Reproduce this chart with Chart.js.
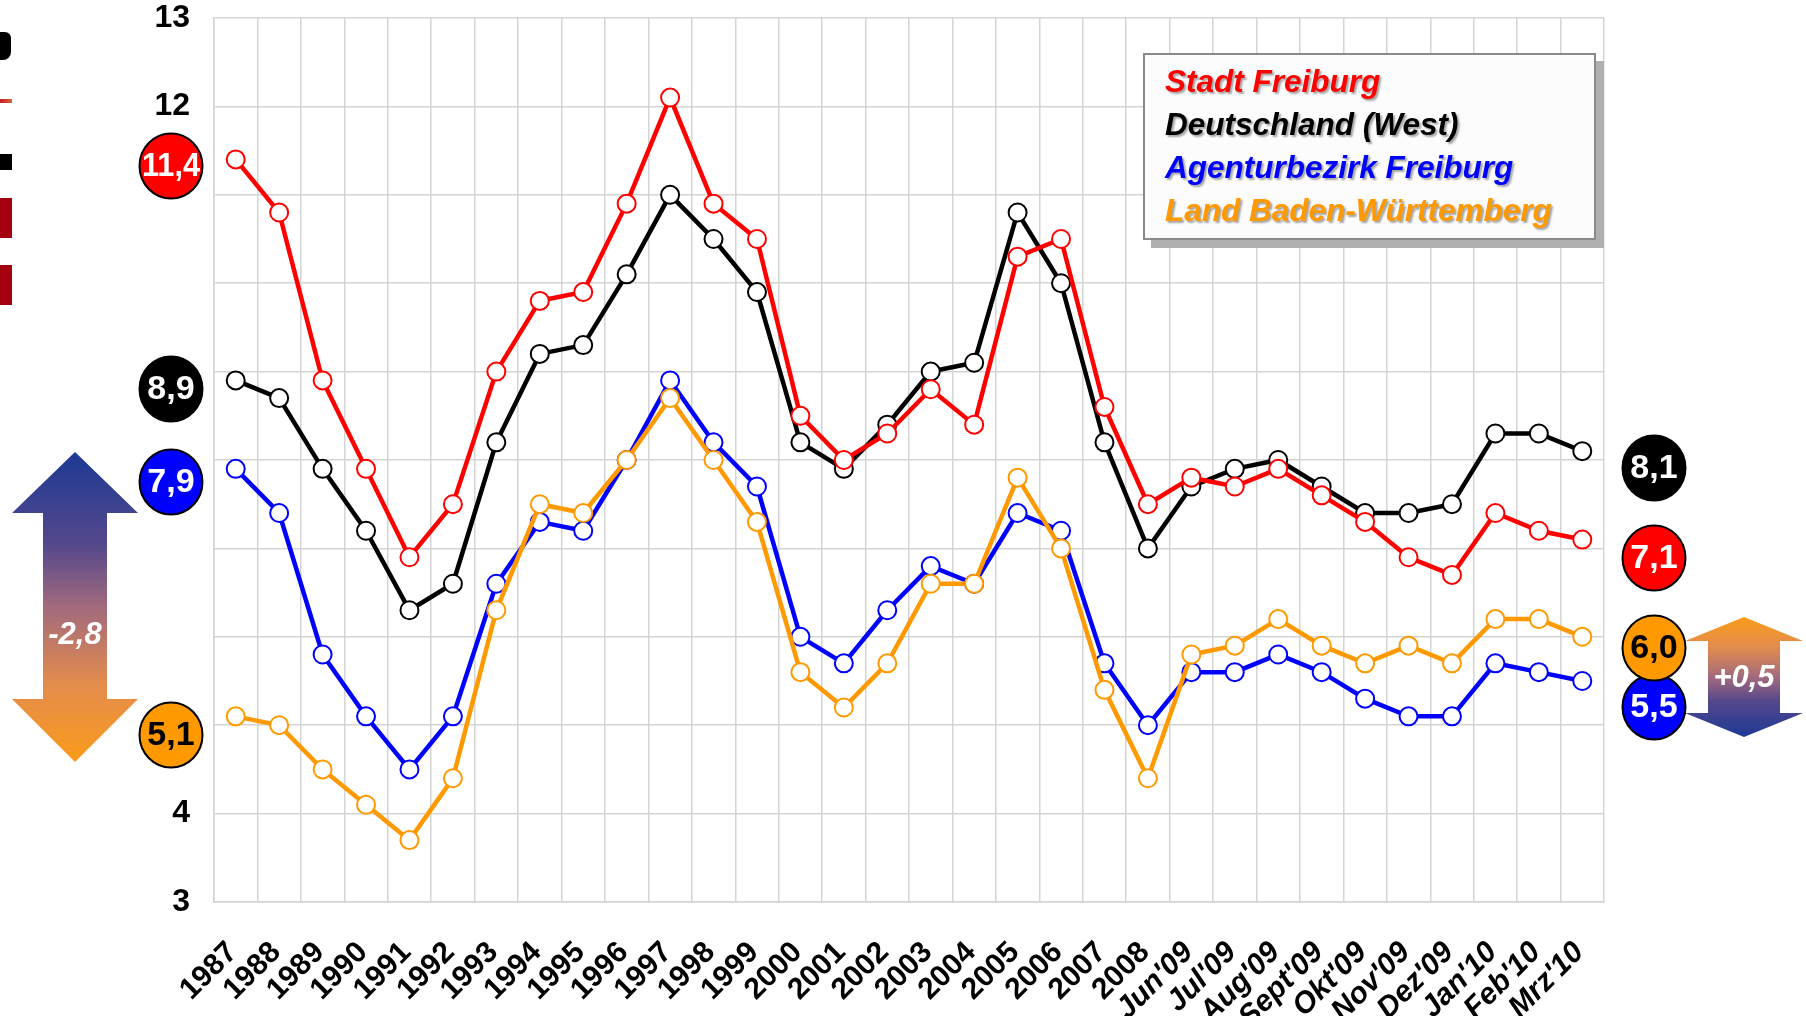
<!DOCTYPE html>
<html>
<head>
<meta charset="utf-8">
<script src="https://cdn.jsdelivr.net/npm/chart.js@4.4.0/dist/chart.umd.min.js"></script>
<style>
  body { margin: 0; background: #fff; }
  #wrap { position: relative; width: 1806px; height: 1016px; overflow: hidden; }
  #chart { position: absolute; left: 0; top: 0; }
  #legendBox {
    position: absolute; left: 1143px; top: 53px; width: 429px; height: 178px;
    border: 2px solid #8a8a8a; background: #fcfcfc;
    box-shadow: 8px 8px 0 #b0b0b0;
    padding: 5px 0 0 20px; box-sizing: content-box;
    font-family: "Liberation Sans", Arial, sans-serif; font-weight: bold; font-style: italic;
    font-size: 31.5px; line-height: 43px; white-space: nowrap;
    text-shadow: 2px 2px 2px rgba(0, 0, 0, 0.35);
  }
  .edge { position: absolute; left: 0; width: 12px; }
</style>
</head>
<body>
<div id="wrap">
  <canvas id="chart" width="1806" height="1016"></canvas>
  <div id="legendBox"></div>
  <!-- bits of the slide cut off at the left edge -->
  <div class="edge" style="top:32px;height:28px;width:11px;background:#000;border-radius:0 6px 8px 0;"></div>
  <div class="edge" style="top:99px;height:4px;background:linear-gradient(90deg,#c21f1f,#e0603a);"></div>
  <div class="edge" style="top:154px;height:16px;background:#000;"></div>
  <div class="edge" style="top:198px;height:40px;background:#a30010;"></div>
  <div class="edge" style="top:265px;height:40px;background:#a30010;"></div>
</div>
<script>
const labels = [
  "1987", "1988", "1989", "1990", "1991", "1992", "1993", "1994", "1995", "1996",
  "1997", "1998", "1999", "2000", "2001", "2002", "2003", "2004", "2005", "2006",
  "2007", "2008", "Jun'09", "Jul'09", "Aug'09", "Sept'09", "Okt'09", "Nov'09",
  "Dez'09", "Jan'10", "Feb'10", "Mrz'10"
];
const stadtFreiburg = [
  11.4, 10.8, 8.9, 7.9, 6.9, 7.5, 9.0, 9.8, 9.9, 10.9,
  12.1, 10.9, 10.5, 8.5, 8.0, 8.3, 8.8, 8.4, 10.3, 10.5,
  8.6, 7.5, 7.8, 7.7, 7.9, 7.6, 7.3, 6.9, 6.7, 7.4, 7.2, 7.1
];
const deutschlandWest = [
  8.9, 8.7, 7.9, 7.2, 6.3, 6.6, 8.2, 9.2, 9.3, 10.1,
  11.0, 10.5, 9.9, 8.2, 7.9, 8.4, 9.0, 9.1, 10.8, 10.0,
  8.2, 7.0, 7.7, 7.9, 8.0, 7.7, 7.4, 7.4, 7.5, 8.3, 8.3, 8.1
];
const agenturbezirk = [
  7.9, 7.4, 5.8, 5.1, 4.5, 5.1, 6.6, 7.3, 7.2, 8.0,
  8.9, 8.2, 7.7, 6.0, 5.7, 6.3, 6.8, 6.6, 7.4, 7.2,
  5.7, 5.0, 5.6, 5.6, 5.8, 5.6, 5.3, 5.1, 5.1, 5.7, 5.6, 5.5
];
const badenWuerttemberg = [
  5.1, 5.0, 4.5, 4.1, 3.7, 4.4, 6.3, 7.5, 7.4, 8.0,
  8.7, 8.0, 7.3, 5.6, 5.2, 5.7, 6.6, 6.6, 7.8, 7.0,
  5.4, 4.4, 5.8, 5.9, 6.2, 5.9, 5.7, 5.9, 5.7, 6.2, 6.2, 6.0
];
const seriesNames = ["Stadt Freiburg", "Deutschland (West)", "Agenturbezirk Freiburg", "Land Baden-Württemberg"];
const seriesColors = ["#ff0000", "#000000", "#0000ff", "#ff9900"];
const yTicksShown = [3, 4, 12, 13];

const FONT = '"Liberation Sans", Arial, sans-serif';
const NARROW = '"Liberation Sans Narrow", "Arial Narrow", "Liberation Sans", sans-serif';
const fmt = (v) => v.toFixed(1).replace(".", ",");

// legend box (html, like the pasted one in the slide)
document.getElementById("legendBox").innerHTML = seriesNames
  .map((n, i) => `<div style="color:${seriesColors[i]}">${n}</div>`)
  .join("");

const makeSet = (i, data, order) => ({
  label: seriesNames[i],
  data: data,
  order: order,
  borderColor: seriesColors[i],
  borderWidth: 4.5,
  tension: 0,
  pointRadius: 9,
  pointBorderWidth: 2,
  pointBackgroundColor: "#ffffff",
  pointBorderColor: seriesColors[i],
});

const BLUE_TO_ORANGE = [
  [0, "#1d3994"], [0.3, "#55488c"], [0.5, "#a26a7c"], [0.75, "#e48c4c"], [1, "#fa9b1b"],
];

const drawArrow = (ctx, a, text) => {
  const g = ctx.createLinearGradient(0, a.top, 0, a.bottom);
  BLUE_TO_ORANGE.forEach(([p, c]) => g.addColorStop(a.flip ? 1 - p : p, c));
  ctx.beginPath();
  ctx.moveTo(a.cx, a.top);
  ctx.lineTo(a.cx + a.head, a.base1);
  ctx.lineTo(a.cx + a.shaft, a.base1);
  ctx.lineTo(a.cx + a.shaft, a.base2);
  ctx.lineTo(a.cx + a.head, a.base2);
  ctx.lineTo(a.cx, a.bottom);
  ctx.lineTo(a.cx - a.head, a.base2);
  ctx.lineTo(a.cx - a.shaft, a.base2);
  ctx.lineTo(a.cx - a.shaft, a.base1);
  ctx.lineTo(a.cx - a.head, a.base1);
  ctx.closePath();
  ctx.fillStyle = g;
  ctx.fill();
  ctx.fillStyle = "#ffffff";
  ctx.font = "italic bold 31px " + FONT;
  ctx.textAlign = "center";
  ctx.textBaseline = "middle";
  ctx.fillText(text, a.cx, a.textY);
};

const drawBadge = (ctx, x, y, fill, textColor, text) => {
  ctx.beginPath();
  ctx.ellipse(x, y, 31.5, 32.5, 0, 0, Math.PI * 2);
  ctx.fillStyle = fill;
  ctx.fill();
  ctx.lineWidth = 2;
  ctx.strokeStyle = "#000";
  ctx.stroke();
  ctx.fillStyle = textColor;
  ctx.font = "bold 34px " + NARROW;
  ctx.textAlign = "center";
  ctx.textBaseline = "middle";
  ctx.fillText(text, x, y + 1, 58);
};

const overlayPlugin = {
  id: "overlay",
  afterDraw(chart) {
    const ctx = chart.ctx;
    const last = labels.length - 1;
    const diffStart = badenWuerttemberg[0] - agenturbezirk[0];
    const diffEnd = badenWuerttemberg[last] - agenturbezirk[last];
    ctx.save();
    drawArrow(ctx, { cx: 75, top: 452, base1: 513, base2: 699, bottom: 762, head: 63, shaft: 32, flip: false, textY: 635 },
      (diffStart < 0 ? "" : "+") + fmt(diffStart));
    drawArrow(ctx, { cx: 1744, top: 617, base1: 641, base2: 713, bottom: 737, head: 59, shaft: 36, flip: true, textY: 678 },
      (diffEnd < 0 ? "" : "+") + fmt(diffEnd));

    drawBadge(ctx, 171, 166, "#ff0000", "#fff", fmt(stadtFreiburg[0]));
    drawBadge(ctx, 171, 389, "#000000", "#fff", fmt(deutschlandWest[0]));
    drawBadge(ctx, 171, 482, "#0000ff", "#fff", fmt(agenturbezirk[0]));
    drawBadge(ctx, 171, 735, "#ff9900", "#000", fmt(badenWuerttemberg[0]));

    drawBadge(ctx, 1654, 468, "#000000", "#fff", fmt(deutschlandWest[last]));
    drawBadge(ctx, 1654, 558, "#ff0000", "#fff", fmt(stadtFreiburg[last]));
    drawBadge(ctx, 1654, 707, "#0000ff", "#fff", fmt(agenturbezirk[last]));
    drawBadge(ctx, 1654, 648, "#ff9900", "#000", fmt(badenWuerttemberg[last]));
    ctx.restore();
  },
};

new Chart(document.getElementById("chart"), {
  type: "line",
  data: {
    labels: labels,
    datasets: [
      makeSet(0, stadtFreiburg, 0),
      makeSet(1, deutschlandWest, 1),
      makeSet(2, agenturbezirk, 3),
      makeSet(3, badenWuerttemberg, 2),
    ],
  },
  options: {
    responsive: false,
    animation: false,
    devicePixelRatio: 1,
    layout: { padding: { left: 0, top: 18, right: 202, bottom: 0 } },
    plugins: { legend: { display: false }, tooltip: { enabled: false } },
    scales: {
      x: {
        offset: true,
        grid: { offset: true, color: "#d4d4d4", lineWidth: 1.5, drawTicks: false },
        border: { color: "#d4d4d4", width: 1.5 },
        ticks: {
          autoSkip: false,
          maxRotation: 45,
          minRotation: 45,
          padding: 33,
          labelOffset: -3,
          color: "#000",
          font: (c) => ({ family: FONT, size: 30, weight: "bold", style: c.index >= 22 ? "italic" : "normal" }),
        },
        afterFit: (s) => { s.height = 114; s.paddingLeft = 0; s.paddingRight = 0; },
      },
      y: {
        min: 3,
        max: 13,
        grid: { color: "#d4d4d4", lineWidth: 1.5, drawTicks: false },
        border: { color: "#d4d4d4", width: 1.5 },
        ticks: {
          stepSize: 1,
          padding: 24,
          color: "#000",
          font: { family: NARROW, size: 32, weight: "bold" },
          callback: (v) => (yTicksShown.includes(v) ? v : ""),
        },
        afterFit: (s) => { s.width = 214; s.paddingTop = 0; s.paddingBottom = 0; },
      },
    },
  },
  plugins: [overlayPlugin],
});
</script>
</body>
</html>
